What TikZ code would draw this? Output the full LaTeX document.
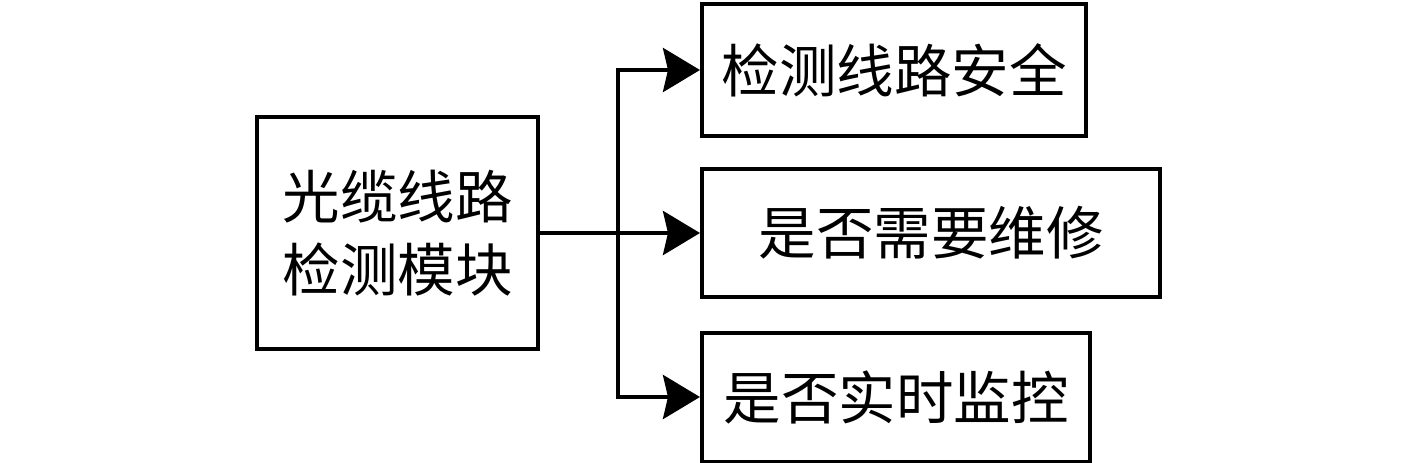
\documentclass[tikz,border=0pt]{standalone}
\usepackage{fontspec}
\newfontfamily\cjk{Noto Sans CJK SC}
\usetikzlibrary{arrows.meta}
\begin{document}
\begin{tikzpicture}[x=1pt,y=-1pt,
  box/.style={draw=black,line width=4pt,minimum width=#1,inner sep=0pt,font=\cjk\fontsize{57.5}{73}\selectfont,align=center},
  conn/.style={line width=4pt},
  arr/.style={line width=4pt,-{Stealth[length=37pt,width=44pt,inset=5pt]}}]
\useasboundingbox (0,0) rectangle (1417,463);
\node[box=281pt,minimum height=232pt] (L) at (397.5,233) {光缆线路\\检测模块};
\node[box=384pt,minimum height=132pt] (T) at (894,70) {检测线路安全};
\node[box=458pt,minimum height=128pt] (M) at (931,233) {是否需要维修};
\node[box=388pt,minimum height=129pt] (B) at (896,397) {是否实时监控};
\coordinate (j) at (618,233);
\draw[conn] (L.east) -- (j);
\draw[arr] (j) -- (M.west);
\draw[arr] (j) |- (T.west);
\draw[arr] (j) |- (B.west);
\end{tikzpicture}
\end{document}
